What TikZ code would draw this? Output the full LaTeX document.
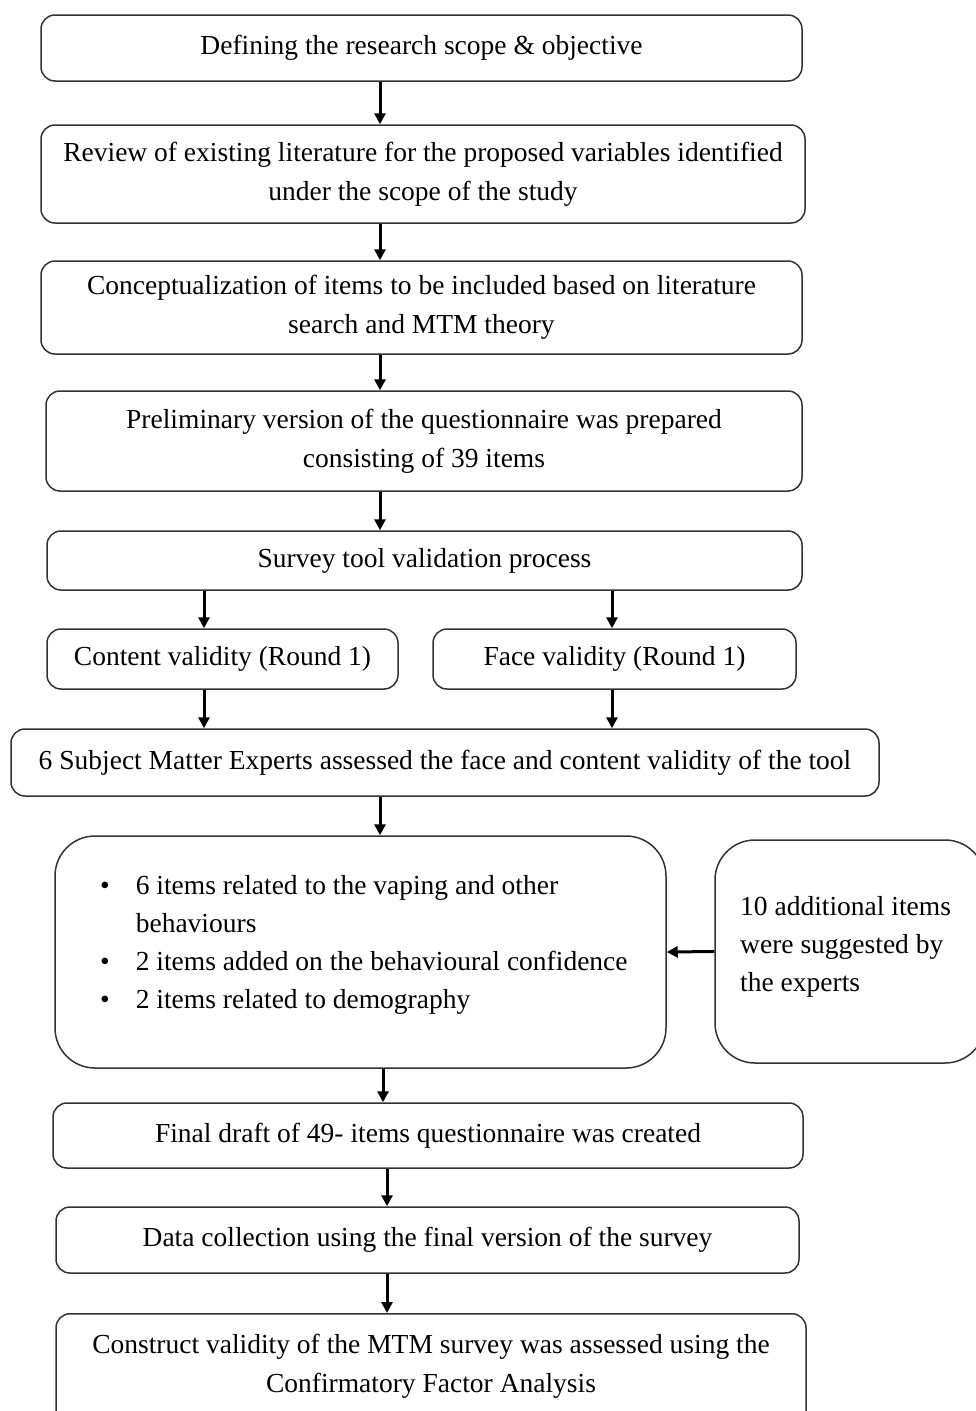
\documentclass[tikz,border=0pt]{standalone}
\usepackage{fontspec}
\setmainfont{Liberation Serif}
\usetikzlibrary{arrows.meta}
\newcommand\fz{\fontsize{27.5}{39}\selectfont}
\begin{document}
\begin{tikzpicture}[x=1pt,y=-1pt,
  box/.style={draw=black!80, line width=1.5pt, rounded corners=14pt, inner sep=0pt, align=center, font=\fz},
  bigbox/.style={box, rounded corners=40pt},
  txt/.style={inner sep=0pt, font=\fz},
  arr/.style={line width=3pt, -{Triangle[length=11pt,width=11pt]}}]
\useasboundingbox (0,0) rectangle (976,1411);
\clip (0,0) rectangle (976,1411);
\coordinate (xa) at (380,0);
\coordinate (xb) at (204,0);
\coordinate (xc) at (612,0);
\coordinate (xd) at (383,0);
\coordinate (xe) at (387,0);
\node[box, minimum width=761, minimum height=66] (def) at (421.5,48) {Defining the research scope \& objective};
\node[box, minimum width=764, minimum height=98] (rev) at (423,174) {Review of existing literature for the proposed variables identified\\under the scope of the study};
\node[box, minimum width=761, minimum height=93] (con) at (421.5,307.5) {Conceptualization of items to be included based on literature\\search and MTM theory};
\node[box, minimum width=756, minimum height=100] (pre) at (424,441) {Preliminary version of the questionnaire was prepared\\consisting of 39 items};
\node[box, minimum width=755, minimum height=59] (sur) at (424.5,560.5) {Survey tool validation process};
\node[box, minimum width=351, minimum height=60] (cv) at (222.5,659) {Content validity (Round 1)};
\node[box, minimum width=363, minimum height=60] (fv) at (614.5,659) {Face validity (Round 1)};
\node[box, minimum width=868, minimum height=67] (sme) at (445,762.5) {6 Subject Matter Experts assessed the face and content validity of the tool};
\node[bigbox, minimum width=611, minimum height=232] (bul) at (360.5,952) {};
\node[txt, anchor=north west] (bultxt) at (100,868) {\renewcommand\arraystretch{0.975}\begin{tabular}{@{}l@{\hspace{26pt}}l@{}}
\textbullet & 6 items related to the vaping and other\\
 & behaviours\\
\textbullet & 2 items added on the behavioural confidence\\
\textbullet & 2 items related to demography
\end{tabular}};
\node[bigbox, minimum width=270, minimum height=223] (rb) at (850,951.5) {};
\node[txt, anchor=west, align=left, font=\fontsize{27.5}{38}\selectfont] (rbtxt) at (740,947) {10 additional items\\were suggested by\\the experts};
\node[box, minimum width=750, minimum height=65] (fin) at (428,1135.5) {Final draft of 49- items questionnaire was created};
\node[box, minimum width=743, minimum height=66] (dat) at (427.5,1240) {Data collection using the final version of the survey};
\node[box, minimum width=750, minimum height=127, anchor=north] (cons) at (431,1313) {};
\node[txt, align=center] (constxt) at (431,1366) {Construct validity of the MTM survey was assessed using the\\Confirmatory Factor Analysis};
\draw[arr] (def.south -| xa) -- (rev.north -| xa);
\draw[arr] (rev.south -| xa) -- (con.north -| xa);
\draw[arr] (con.south -| xa) -- (pre.north -| xa);
\draw[arr] (pre.south -| xa) -- (sur.north -| xa);
\draw[arr] (sur.south -| xb) -- (cv.north -| xb);
\draw[arr] (sur.south -| xc) -- (fv.north -| xc);
\draw[arr] (cv.south -| xb) -- (sme.north -| xb);
\draw[arr] (fv.south -| xc) -- (sme.north -| xc);
\draw[arr] (sme.south -| xa) -- (bul.north -| xa);
\draw[arr] (rb.west) -- (bul.east);
\draw[arr] (bul.south -| xd) -- (fin.north -| xd);
\draw[arr] (fin.south -| xe) -- (dat.north -| xe);
\draw[arr] (dat.south -| xe) -- (cons.north -| xe);
\end{tikzpicture}
\end{document}
